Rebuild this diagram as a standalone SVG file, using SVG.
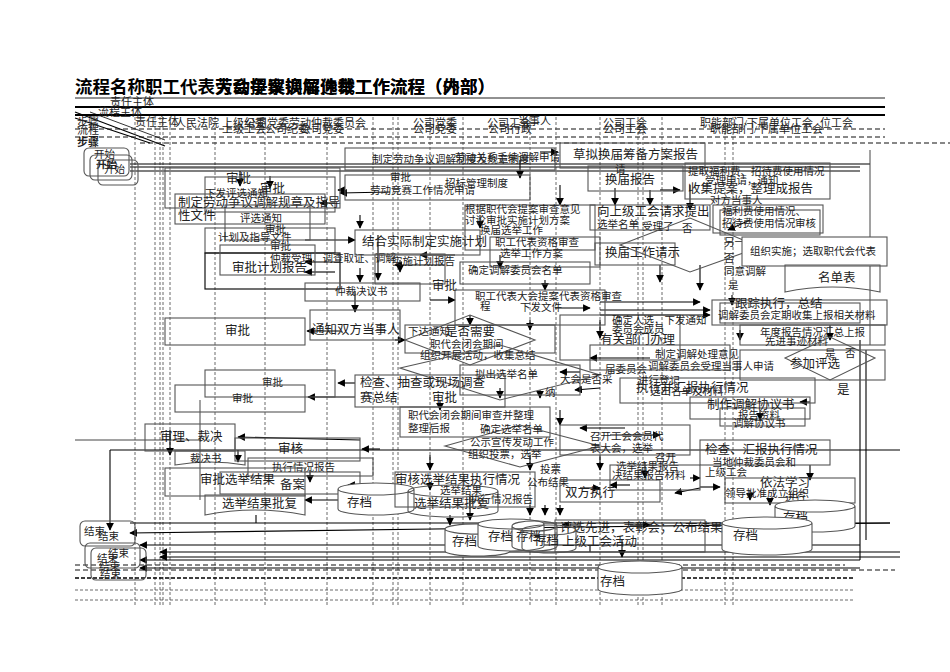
<svg xmlns="http://www.w3.org/2000/svg" width="950" height="672" viewBox="0 0 950 672">
<defs>
<marker id="ah" viewBox="0 0 10 10" refX="9" refY="5" markerWidth="7" markerHeight="7" orient="auto"><path d="M0,0 L10,5 L0,10 z" fill="#000"/></marker>
<style>
text{font-family:"Liberation Serif","Noto Sans CJK SC",serif;font-size:10.5px;fill:#222}
.t{font-size:17.5px;font-weight:bold;fill:#000}
.h{font-size:11px}
.big{font-size:12.5px}
.b{fill:none;stroke:#555;stroke-width:1.1}
.bk{fill:none;stroke:#111;stroke-width:1.2}
.w{fill:#fff;stroke:#555;stroke-width:1.1}
.lane{stroke:#444;stroke-width:0.8;stroke-dasharray:3,2;fill:none}
.hd{stroke:#111;stroke-width:1.2;stroke-dasharray:5,3;fill:none}
.c{fill:none;stroke:#000;stroke-width:1.1;marker-end:url(#ah)}
.cn{fill:none;stroke:#000;stroke-width:1.1}
.cg{fill:none;stroke:#444;stroke-width:1}
</style>
</defs>
<rect width="950" height="672" fill="#fff"/>

<g id="title">
<text class="t" x="75" y="93">流程名称：</text>
<text class="t" x="495" y="93" text-anchor="end">职工代表大会提案换届选举工作流程（内部）</text>
<text class="t" x="495" y="93" text-anchor="end">劳动争议调解仲裁工作流程（外部）</text>
</g>

<g id="header">
<line x1="75" y1="98" x2="885" y2="98" stroke="#222" stroke-width="1"/>
<line x1="75" y1="107" x2="885" y2="107" stroke="#000" stroke-width="2.2"/>
<line x1="75" y1="115" x2="885" y2="115" stroke="#000" stroke-width="2.2"/>
<line x1="75" y1="112" x2="165" y2="146" stroke="#000" stroke-width="1.2"/>
<line x1="75" y1="118" x2="150" y2="143" stroke="#000" stroke-width="1.2"/>
<line x1="90" y1="112" x2="165" y2="140" stroke="#000" stroke-width="0.8"/>
<text x="110" y="106" class="h">责任主体</text>
<text x="98" y="116" class="h">流程主体</text>
<text x="77" y="126" class="h">步骤</text>
<text x="77" y="134" class="h">流程</text>
<text x="77" y="146" class="h" font-weight="bold">步骤</text>
<text x="135" y="126" class="h">责任主体</text>
<text x="175" y="127" class="h">人民法院</text>
<text x="222" y="127" class="h">上级纪委</text>
<text x="245" y="127" class="h">公司党委劳动仲裁委员会</text>
<text x="222" y="133" class="h">上级工会</text>
<text x="265" y="133" class="h">公司纪委</text>
<text x="300" y="133" class="h">公司党委</text>
<text x="413" y="127" class="h">公司党委</text>
<text x="413" y="133" class="h">公司党委</text>
<text x="487" y="127" class="h">公司工会</text>
<text x="518" y="125" class="h">当事人</text>
<text x="488" y="133" class="h">公司行政</text>
<text x="603" y="127" class="h">公司工会</text>
<text x="603" y="133" class="h">公司工会</text>
<text x="700" y="127" class="h">职能部门/下属单位工会</text>
<text x="710" y="133" class="h">职能部门/下属单位工会</text>
<text x="820" y="127" class="h">位工会</text>
<line x1="75" y1="129" x2="885" y2="129" class="hd"/>
<line x1="75" y1="137" x2="885" y2="137" class="hd"/>
<line x1="140" y1="143" x2="950" y2="143" class="hd"/>
</g>

<g id="lanes">
<line x1="135" y1="117" x2="135" y2="605" class="lane"/>
<line x1="155" y1="117" x2="155" y2="605" class="lane"/>
<line x1="160" y1="117" x2="160" y2="605" class="lane"/>
<line x1="163" y1="117" x2="163" y2="605" class="lane"/>
<line x1="170" y1="117" x2="170" y2="605" class="lane"/>
<line x1="215" y1="117" x2="215" y2="605" class="lane"/>
<line x1="265" y1="117" x2="265" y2="605" class="lane"/>
<line x1="327" y1="117" x2="327" y2="605" class="lane"/>
<line x1="373" y1="117" x2="373" y2="605" class="lane"/>
<line x1="393" y1="117" x2="393" y2="605" class="lane"/>
<line x1="398" y1="117" x2="398" y2="605" class="lane"/>
<line x1="430" y1="117" x2="430" y2="605" class="lane"/>
<line x1="463" y1="117" x2="463" y2="605" class="lane"/>
<line x1="530" y1="117" x2="530" y2="605" class="lane"/>
<line x1="556" y1="117" x2="556" y2="605" class="lane"/>
<line x1="600" y1="117" x2="600" y2="605" class="lane"/>
<line x1="638" y1="117" x2="638" y2="605" class="lane"/>
<line x1="643" y1="117" x2="643" y2="605" class="lane"/>
<line x1="662" y1="117" x2="662" y2="605" class="lane"/>
<line x1="725" y1="117" x2="725" y2="605" class="lane"/>
<line x1="733" y1="117" x2="733" y2="605" class="lane"/>
<line x1="75" y1="565" x2="845" y2="565" class="hd"/>
<line x1="75" y1="570" x2="895" y2="570" class="hd"/>
<line x1="75" y1="578" x2="855" y2="578" stroke="#000" stroke-width="1.6" stroke-dasharray="4,2"/>
<line x1="75" y1="590" x2="855" y2="590" class="lane"/>
<line x1="75" y1="600" x2="855" y2="600" class="lane"/>
</g>

<g id="connectors">
<polyline class="cn" points="130,164 870,164"/>
<polyline class="cn" points="130,167 860,167"/>
<polyline class="cn" points="130,171 860,171"/>
<polyline class="c" points="540,152 558,152"/>
<polyline class="c" points="345,190 338,190"/>
<polyline class="c" points="390,192 340,193"/>
<polyline class="c" points="240,171 240,186"/>
<polyline class="c" points="270,176 270,188"/>
<polyline class="c" points="335,203 320,203"/>
<polyline class="c" points="360,215 360,228"/>
<polyline class="c" points="305,240 355,240"/>
<polyline class="c" points="480,215 480,228"/>
<polyline class="c" points="520,160 520,178"/>
<polyline class="c" points="560,185 560,205"/>
<polyline class="c" points="615,188 615,205"/>
<polyline class="c" points="650,190 650,205"/>
<polyline class="c" points="690,185 690,210"/>
<polyline class="c" points="660,190 680,190"/>
<polyline class="c" points="750,220 728,230"/>
<polyline class="c" points="340,262 305,262"/>
<polyline class="c" points="445,265 395,265"/>
<polyline class="c" points="335,272 305,272"/>
<polyline class="c" points="455,255 420,255"/>
<polyline class="c" points="400,260 400,272"/>
<polyline class="c" points="360,268 360,282"/>
<polyline class="c" points="378,235 378,280"/>
<polyline class="c" points="500,255 500,268"/>
<polyline class="c" points="545,280 545,290"/>
<polyline class="c" points="660,265 660,282"/>
<polyline class="c" points="700,265 700,290"/>
<polyline class="c" points="732,295 732,305"/>
<polyline class="c" points="355,291 355,312"/>
<polyline class="c" points="430,300 455,300"/>
<polyline class="c" points="555,308 590,308"/>
<polyline class="c" points="600,302 700,302"/>
<polyline class="c" points="600,310 710,310"/>
<polyline class="c" points="600,315 710,315"/>
<polyline class="c" points="340,331 307,331"/>
<polyline class="c" points="395,340 405,340"/>
<polyline class="c" points="470,315 470,325"/>
<polyline class="c" points="530,320 530,330"/>
<polyline class="c" points="600,320 600,338"/>
<polyline class="c" points="650,358 590,358"/>
<polyline class="c" points="580,372 560,372"/>
<polyline class="c" points="740,330 740,340"/>
<polyline class="c" points="830,325 830,340"/>
<polyline class="c" points="600,388 575,390"/>
<polyline class="c" points="810,402 800,402"/>
<polyline class="c" points="760,410 760,420"/>
<polyline class="c" points="355,383 338,383"/>
<polyline class="c" points="355,397 308,397"/>
<polyline class="c" points="440,400 440,410"/>
<polyline class="c" points="500,388 500,398"/>
<polyline class="c" points="560,410 560,425"/>
<polyline class="c" points="540,390 540,398"/>
<polyline class="c" points="625,428 580,428"/>
<polyline class="c" points="610,435 660,435"/>
<polyline class="c" points="360,440 238,437"/>
<polyline class="c" points="380,449 362,449"/>
<polyline class="c" points="238,450 238,462"/>
<polyline class="c" points="430,455 430,470"/>
<polyline class="c" points="310,470 310,482"/>
<polyline class="c" points="530,455 530,470"/>
<polyline class="c" points="600,455 600,470"/>
<polyline class="c" points="645,462 645,478"/>
<polyline class="c" points="690,478 700,478"/>
<polyline class="c" points="700,487 720,487"/>
<polyline class="c" points="630,485 610,485"/>
<polyline class="c" points="700,488 675,493"/>
<polyline class="c" points="580,488 600,488"/>
<polyline class="c" points="810,465 810,480"/>
<polyline class="c" points="750,490 750,500"/>
<polyline class="c" points="770,500 770,505"/>
<polyline class="c" points="470,495 470,520"/>
<polyline class="c" points="430,485 430,490"/>
<polyline class="c" points="360,485 348,485"/>
<polyline class="c" points="340,500 305,500"/>
<polyline class="c" points="450,515 450,525"/>
<polyline class="c" points="530,505 530,515"/>
<polyline class="c" points="545,505 545,515"/>
<polyline class="c" points="560,505 560,515"/>
<polyline class="c" points="580,525 562,525"/>
<polyline class="c" points="630,525 650,525"/>
<polyline class="c" points="622,540 622,557"/>
<polyline class="c" points="170,430 170,455"/>
<polyline class="cn" points="110,450 900,450"/>
<polyline class="c" points="110,450 110,530"/>
<polyline class="cg" points="75,440 200,440"/>
<polyline class="c" points="890,523 130,533"/>
<polyline class="cn" points="890,523 130,523"/>
<polyline class="c" points="900,557 160,557"/>
<polyline class="c" points="900,552 160,552"/>
<polyline class="c" points="860,545 140,545"/>
<polyline class="c" points="860,560 140,560"/>
<polyline class="c" points="860,568 140,568"/>
<polyline class="cn" points="256,515 256,523"/>
<polyline class="cn" points="590,545 590,552"/>
<polyline class="cn" points="860,340 860,560"/>
<polyline class="cn" points="866,350 866,540"/>
<polyline class="cg" points="870,150 870,345"/>
<polyline class="cg" points="200,400 200,500"/>
</g>

<g id="n-start1"><rect x="84" y="148" width="45" height="28" rx="5" class="b"/><text x="94" y="158">开始</text></g>
<g id="n-start2"><rect x="90" y="155" width="42" height="25" rx="5" class="b"/><text x="96" y="168" font-weight="bold">开始</text></g>
<g id="n-start3"><rect x="98" y="160" width="40" height="25" rx="5" class="b"/><text x="104" y="173">开始</text></g>

<g id="n-r1"><rect x="345" y="148" width="210" height="22" class="b"/><text x="372" y="163">制定劳动争议调解制度及规章制度</text><text x="455" y="161">劳动关系手续调解申请</text></g>
<g id="n-r2"><rect x="560" y="143" width="145" height="25" class="b"/><text x="573" y="159" class="big">草拟换届筹备方案报告</text></g>
<g id="n-r3"><rect x="165" y="168" width="175" height="40" class="b"/><text x="226" y="183" class="big">审批</text></g>
<g id="n-r4"><rect x="205" y="177" width="130" height="35" class="b"/><text x="260" y="193" class="big">审批</text></g>
<g id="n-r3b"><rect x="345" y="175" width="185" height="25" class="b"/><text x="390" y="181">审批</text><text x="370" y="194">劳动竞赛工作情况申请</text><text x="445" y="187">招标管理制度</text></g>
<g id="n-r5"><rect x="175" y="194" width="150" height="30" class="b"/><text x="178" y="207" class="big">制定劳动争议调解规章及指导</text><text x="178" y="220" class="big">性文件</text><text x="205" y="197">下发评选通知</text></g>
<g id="n-r5b"><rect x="225" y="205" width="85" height="35" class="b"/><text x="240" y="222">评选通知</text></g>
<g id="n-r6"><rect x="205" y="228" width="130" height="25" class="b"/><text x="218" y="241">计划及指导文件</text><text x="265" y="233">审批</text></g>
<g id="n-r7"><rect x="205" y="253" width="135" height="36" class="bk"/><text x="270" y="262">仲裁受理、调查取证、调解</text><text x="232" y="272" class="big">审批计划报告</text><text x="270" y="250">审批</text></g>
<g id="n-r8"><rect x="220" y="245" width="95" height="30" class="b"/></g>
<g id="n-r9"><rect x="355" y="230" width="125" height="25" class="b"/><text x="362" y="246" class="big">结合实际制定实施计划</text></g>
<g id="n-r10"><rect x="375" y="254" width="70" height="30" class="b"/><text x="392" y="265">实施计划报告</text></g>
<g id="n-r11"><rect x="305" y="283" width="115" height="18" class="b"/><text x="335" y="295">仲裁决议书</text></g>
<g id="n-r11b"><text x="432" y="290" class="big">审批</text></g>
<g id="n-r12"><rect x="465" y="205" width="130" height="45" class="b"/><text x="465" y="213">根据职代会提案审查意见</text><text x="465" y="224">讨论审批实施计划方案</text><text x="480" y="234">换届选举工作</text></g>
<g id="n-r12b"><rect x="490" y="237" width="110" height="30" class="b"/><text x="495" y="246">职工代表资格审查</text><text x="500" y="257">选举工作方案</text></g>
<g id="n-r12c"><rect x="460" y="262" width="130" height="22" class="b"/><text x="468" y="274">确定调解委员会名单</text></g>
<g id="n-r13"><rect x="455" y="290" width="150" height="35" class="b"/><text x="475" y="300">职工代表大会提案代表资格审查</text><text x="520" y="311">下发文件</text><text x="480" y="310">程</text></g>
<g id="n-r14"><rect x="588" y="166" width="95" height="25" class="b"/><text x="605" y="184" class="big">换届报告</text><text x="615" y="173">请</text></g>
<g id="n-r15"><rect x="685" y="163" width="145" height="36" class="b"/><text x="688" y="175">提取福利费、招待费使用情况</text><text x="705" y="184">受理申请，通知</text><text x="688" y="193" class="big">收集提案，整理成报告</text><text x="710" y="204">对方当事人</text></g>
<g id="n-r16"><rect x="713" y="205" width="110" height="28" class="b"/><rect x="720" y="210" width="100" height="25" class="b"/><text x="722" y="215">福利费使用情况、</text><text x="722" y="227">招待费使用情况</text><text x="795" y="227">审核</text></g>
<g id="n-r17"><rect x="590" y="205" width="120" height="25" class="b"/><text x="597" y="216" class="big">向上级工会请求提出</text><text x="597" y="228">选举名单</text><text x="642" y="230">受理了</text><text x="682" y="232">否</text></g>
<g id="n-r18"><rect x="595" y="243" width="80" height="22" class="b"/><text x="605" y="257" class="big">换届工作请示</text></g>
<g id="n-d1"><polygon points="620,245 690,218 760,247 690,272" class="b"/><text x="724" y="246">另一方是</text><text x="724" y="262">否</text><text x="724" y="275">同意调解</text><text x="728" y="289">是</text></g>
<g id="n-r19"><rect x="742" y="237" width="145" height="29" class="w"/><text x="750" y="255">组织实施；选取职代会代表</text></g>
<g id="n-r20"><path d="M785,265 H880 V292 Q832,282 785,292 Z" class="b"/><text x="818" y="282" class="big">名单表</text></g>
<g id="n-r21"><rect x="712" y="300" width="175" height="25" class="b"/><rect x="720" y="303" width="140" height="20" class="b"/><text x="735" y="308" class="big">跟踪执行，总结</text><text x="718" y="319">调解委员会定期收集上报相关材料</text></g>
<g id="n-r22"><rect x="740" y="325" width="145" height="20" class="b"/><text x="760" y="336">年度报告情况汇总上报</text><text x="765" y="345">先进事迹材料</text></g>
<g id="n-d2"><polygon points="785,358 830,337 875,358 830,380" class="b"/><rect x="740" y="350" width="145" height="30" class="b"/><text x="825" y="357">是</text><text x="845" y="357">否</text><text x="790" y="368" class="big">参加评选</text></g>
<g id="n-r23"><rect x="620" y="378" width="195" height="25" class="b"/><text x="636" y="392" class="big">执行并汇报执行情况</text><text x="837" y="394" class="big">是</text></g>
<g id="n-r24"><rect x="690" y="397" width="120" height="22" class="b"/><rect x="720" y="408" width="85" height="18" class="b"/><text x="707" y="409" class="big">制作调解协议书</text><text x="738" y="419">报告资料</text><text x="733" y="427">调解协议书</text></g>
<g id="n-r25"><rect x="700" y="440" width="130" height="25" class="b"/><text x="705" y="454" class="big">检查、汇报执行情况</text><text x="712" y="466">当地仲裁委员会和</text><text x="705" y="476">上级工会</text><text x="760" y="487" class="big">依法学习</text><text x="725" y="497">领导批准成立组织</text><text x="785" y="501">进行</text></g>
<g id="n-r25b"><rect x="725" y="478" width="130" height="25" class="b"/></g>
<g id="n-cy1"><path d="M775,506 a40,6 0 0,0 80,0 a40,6 0 0,0 -80,0 v20 a40,6 0 0,0 80,0 v-20" class="w"/><text x="783" y="522" class="big">存档</text></g>
<g id="n-cy2"><path d="M722,523 a45,6 0 0,0 90,0 a45,6 0 0,0 -90,0 v26 a45,6 0 0,0 90,0 v-26" class="w"/><text x="733" y="540" class="big">存档</text></g>
<g id="n-cy3"><path d="M598,567 a42,6 0 0,0 84,0 a42,6 0 0,0 -84,0 v22 a42,6 0 0,0 84,0 v-22" class="w"/><text x="600" y="586" class="big">存档</text></g>
<g id="n-r26"><rect x="555" y="520" width="150" height="32" class="b"/><text x="560" y="532" class="big">评选先进，表彰会；公布结果</text><text x="562" y="546" class="big">上级工会活动</text></g>

<g id="n-r27"><rect x="165" y="318" width="140" height="27" class="b"/><text x="225" y="335" class="big">审批</text></g>
<g id="n-r27b"><rect x="310" y="310" width="90" height="30" class="b"/><text x="312" y="334" class="big">通知双方当事人</text></g>
<g id="n-d3"><polygon points="405,340 470,315 535,340 470,365" class="b"/><text x="408" y="335">下达通知</text><text x="445" y="336" class="big">是否需要</text></g>
<g id="n-r28"><rect x="405" y="325" width="150" height="28" class="b"/><text x="430" y="348">职代会闭会期间</text><text x="420" y="359">组织开展活动，收集总结</text></g>
<g id="n-r28b"><rect x="560" y="315" width="120" height="45" class="b"/><text x="612" y="324">确定人选，下发通知</text><text x="612" y="333">委员会成员</text><text x="600" y="344" class="big">有关部门办理</text><text x="655" y="358">制定调解处理意见</text><text x="605" y="373">届委员会</text><text x="648" y="370">调解委员会受理当事人申请</text><text x="638" y="384">进行登记</text></g>
<g id="n-r28c"><rect x="590" y="345" width="140" height="25" class="b"/><text x="650" y="395">选出名单及材料</text></g>
<g id="n-d4"><polygon points="400,368 500,345 600,375 500,400" class="b"/><rect x="460" y="365" width="120" height="30" class="b"/><text x="475" y="378">拟出选举名单</text><text x="560" y="383">大会是否采</text><text x="545" y="396">纳</text></g>
<g id="n-r29"><rect x="205" y="370" width="130" height="27" class="b"/><text x="262" y="386">审批</text></g>
<g id="n-r30"><rect x="175" y="385" width="130" height="27" class="b"/><text x="232" y="402">审批</text></g>
<g id="n-r31"><rect x="355" y="375" width="150" height="32" class="b"/><text x="360" y="387" class="big">检查、抽查或现场调查</text><text x="360" y="402" class="big">赛总结</text><text x="432" y="402" class="big">审批</text></g>
<g id="n-r32"><rect x="400" y="407" width="150" height="30" class="b"/><text x="408" y="419">职代会闭会期间审查并整理</text><text x="408" y="432">整理后报</text></g>
<g id="n-d5"><polygon points="445,446 520,425 600,446 520,467" class="b"/><text x="480" y="433">确定选举名单</text><text x="470" y="446">公示宣传发动工作</text><text x="468" y="458">组织投票，选举</text><text x="540" y="473">投票</text><text x="590" y="440">召开工会会员代</text><text x="590" y="452">表大会，选举</text></g>
<g id="n-r32b"><rect x="560" y="425" width="130" height="30" class="b"/></g>
<g id="n-r33"><rect x="145" y="424" width="90" height="27" class="b"/><text x="160" y="441" class="big">审理、裁决</text></g>
<g id="n-r34"><rect x="235" y="438" width="125" height="23" class="b"/><text x="278" y="453" class="big">审核</text></g>
<g id="n-doc1"><path d="M175,451 H245 V465 Q210,459 175,465 Z" class="b"/><text x="190" y="462">裁决书</text></g>
<g id="n-r35"><rect x="248" y="458" width="125" height="18" class="b"/><text x="272" y="471">执行情况报告</text></g>
<g id="n-r36"><rect x="165" y="468" width="140" height="28" class="b"/><rect x="220" y="472" width="140" height="22" class="b"/><text x="200" y="484" class="big">审批选举结果</text><text x="280" y="489" class="big">备案</text></g>
<g id="n-doc2"><path d="M205,495 H305 V515 Q255,505 205,515 Z" class="b"/><text x="222" y="508" class="big">选举结果批复</text></g>
<g id="n-cy4"><path d="M338,489 a38,6 0 0,0 76,0 a38,6 0 0,0 -76,0 v20 a38,6 0 0,0 76,0 v-20" class="w"/><text x="347" y="507" class="big">存档</text></g>
<g id="n-cy5"><path d="M408,491 a45,6 0 0,0 90,0 a45,6 0 0,0 -90,0 v20 a45,6 0 0,0 90,0 v-20" class="b"/><text x="414" y="508" class="big">选举结果批复</text></g>
<g id="n-r37"><rect x="395" y="472" width="140" height="35" class="b"/><text x="395" y="484" class="big">审核选举结果执行情况</text><text x="440" y="494">选举结果</text><text x="470" y="503">执行情况报告</text><text x="527" y="486">公布结果</text></g>
<g id="n-r38"><rect x="560" y="480" width="100" height="22" class="b"/><text x="565" y="497" class="big">双方执行</text><text x="616" y="470">选举结果报告</text><text x="655" y="461">召开</text></g>
<g id="n-r39"><rect x="610" y="465" width="90" height="25" class="b"/><text x="612" y="479">决结果报告材料</text></g>
<g id="n-cy6"><path d="M445,529 a32,5 0 0,0 65,0 a32,5 0 0,0 -65,0 v22 a32,5 0 0,0 65,0 v-22" class="w"/><text x="452" y="546" class="big">存档</text></g>
<g id="n-cy7"><path d="M478,524 a33,5 0 0,0 66,0 a33,5 0 0,0 -66,0 v22 a33,5 0 0,0 66,0 v-22" class="w"/><text x="488" y="541" class="big">存档</text></g>
<g id="n-cy8"><path d="M512,526 a22,5 0 0,0 45,0 a22,5 0 0,0 -45,0 v20 a22,5 0 0,0 45,0 v-20" class="b"/><text x="516" y="541" class="big">存档</text></g>
<g id="n-cy9"><path d="M522,530 a27,5 0 0,0 54,0 a27,5 0 0,0 -54,0 v18 a27,5 0 0,0 54,0 v-18" class="b"/><text x="534" y="545" class="big">存档</text></g>

<g id="n-end1"><rect x="80" y="521" width="55" height="25" rx="5" class="b"/><text x="84" y="535">结束</text><text x="98" y="540">结束</text></g>
<g id="n-end2"><rect x="85" y="543" width="55" height="25" rx="5" class="b"/><text x="108" y="557">结束</text></g>
<g id="n-end3"><rect x="91" y="548" width="55" height="32" rx="5" class="b"/><text x="97" y="562">结束</text><text x="99" y="570">结束</text><text x="100" y="578">结束</text></g>
</svg>
